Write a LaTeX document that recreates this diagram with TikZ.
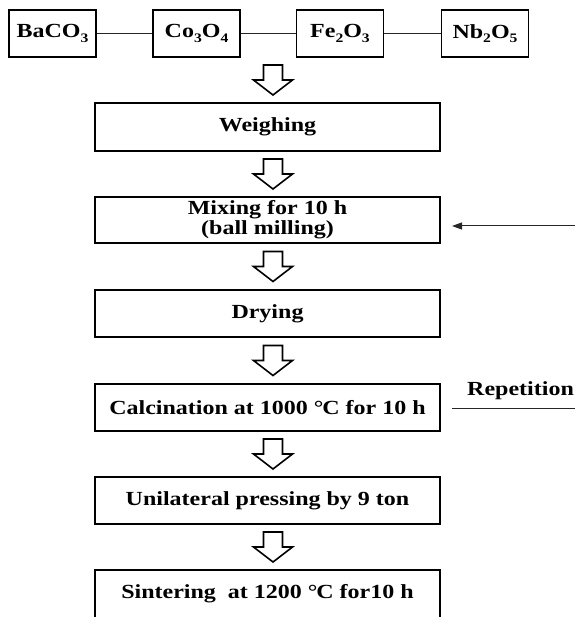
\documentclass[tikz,border=0pt]{standalone}
\usepackage{fontspec}
\setmainfont{Liberation Serif}[FakeStretch=1.2]
\usetikzlibrary{arrows.meta,calc}
\newcommand\chemsub[1]{\raisebox{-0.22em}{\fontsize{13}{13}\selectfont #1}}
\newcommand\degc{°\kern-0.06em C}
\begin{document}
\begin{tikzpicture}[x=1pt,y=-1pt,
 box/.style={draw=black,line width=1.8pt,minimum width=345pt,minimum height=47pt,inner sep=0pt,font=\fontsize{20}{20}\selectfont\bfseries,align=center},
 chem/.style={box,minimum width=87pt},
 link/.style={draw=black!85,line width=1pt},
 hollow/.style={draw=black,line width=1.6pt,line join=miter,fill=white},
 hollowarrow/.pic={\path[hollow] (-9.5,-15) -- (9.5,-15) -- (9.5,0) -- (19.5,0) -- (0,15) -- (-19.5,0) -- (-9.5,0) -- cycle;},
 lbl/.style={font=\fontsize{20}{20}\selectfont\bfseries,inner sep=0pt}
]
\path[use as bounding box] (0,0) rectangle (575,617);
\clip (0,0) rectangle (575,617);
\node[chem] (ba) at (52.5,33.5) {BaCO\chemsub{3}};
\node[chem] (co) at (196.5,33.5) {Co\chemsub{3}O\chemsub{4}};
\node[chem] (fe) at (340,33.5) {Fe\chemsub{2}O\chemsub{3}};
\node[chem] (nb) at (485,33.5) {Nb\chemsub{2}O\chemsub{5}};
\draw[link] (ba) -- (co);
\draw[link] (co) -- (fe);
\draw[link] (fe) -- (nb);
\node[box,minimum height=48pt] (weigh) at (267.5,127) {Weighing};
\node[box,minimum height=46pt] (mix) at (267.5,220) {Mixing for 10 h\\(ball milling)};
\node[box] (dry) at (267.5,313.5) {Drying};
\node[box] (calc) at (267.5,407.5) {Calcination at 1000 \degc{} for 10 h};
\node[box] (press) at (267.5,500.5) {Unilateral pressing by 9 ton};
\node[box,minimum height=48pt] (sint) at (267.5,594) {Sintering~ at 1200 \degc{} for10 h};
\pic at ($(weigh.north |- ba.south)!0.5!(weigh.north)+(5.5,0)$) {hollowarrow};
\pic at ($(weigh.south)!0.5!(mix.north)+(5.5,0)$) {hollowarrow};
\pic at ($(mix.south)!0.5!(dry.north)+(5.5,0)$) {hollowarrow};
\pic at ($(dry.south)!0.5!(calc.north)+(5.5,0)$) {hollowarrow};
\pic at ($(calc.south)!0.5!(press.north)+(5.5,0)$) {hollowarrow};
\pic at ($(press.south)!0.5!(sint.north)+(5.5,0)$) {hollowarrow};
\coordinate (fbstart) at (575,226);
\coordinate (fbend) at (452,226);
\draw[link,-{Triangle[length=10pt,width=7pt]}] (fbstart) -- (fbend);
\coordinate (r1) at (452,408);
\coordinate (r2) at (575,408);
\draw[link] (r1) -- (r2);
\node[lbl,anchor=base west] (rep) at (467,395) {Repetition};
\end{tikzpicture}
\end{document}
